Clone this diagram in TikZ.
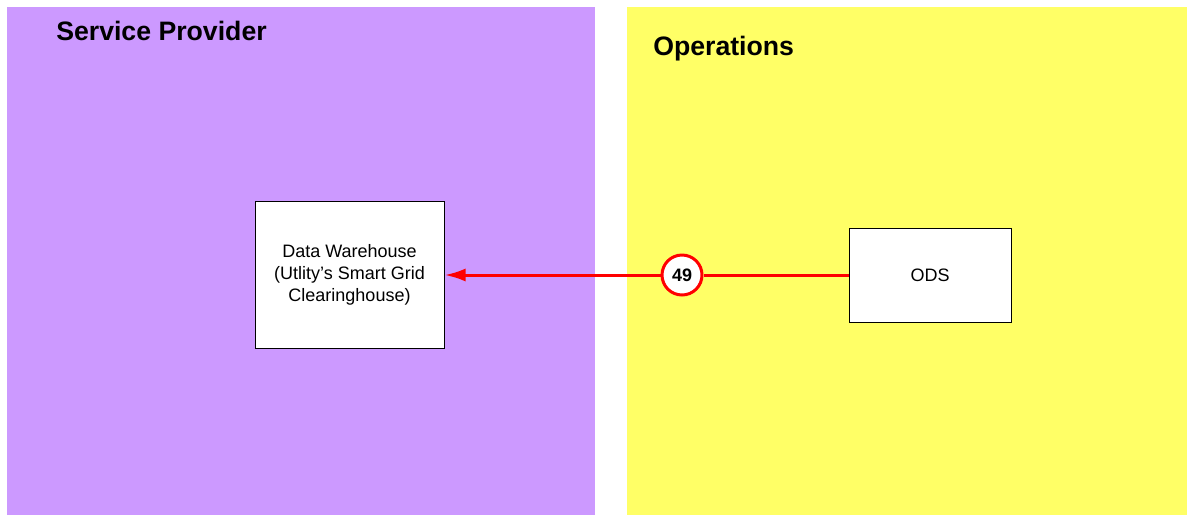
\documentclass[tikz,border=0pt]{standalone}
\usepackage{fontspec}
\setmainfont{Liberation Sans}
\usetikzlibrary{arrows.meta}

\newlength{\du}
\setlength{\du}{0.75pt}

\definecolor{spcolor}{rgb}{0.800000, 0.600000, 1.000000}
\definecolor{opscolor}{rgb}{1.000000, 1.000000, 0.400000}
\definecolor{flowcolor}{rgb}{1.000000, 0.000000, 0.000000}

\begin{document}
\begin{tikzpicture}[x=\du, y=-\du,
  lanetitle/.style={anchor=base west, inner sep=0pt, font=\fontsize{20}{24}\selectfont\bfseries},
  sysbox/.style={draw=black, line width=1\du, fill=white, align=center,
    font=\fontsize{13.5}{16.5}\selectfont},
  flownum/.style={circle, draw=flowcolor, line width=3\du, fill=white, minimum size=40\du,
    inner sep=0pt, font=\fontsize{13.5}{16}\selectfont\bfseries},
  flow/.style={draw=flowcolor, line width=3\du}]
\useasboundingbox (0,0) rectangle (1187,515);
% lanes
\fill[spcolor] (7,7) rectangle (595,515);
\fill[opscolor] (627,7) rectangle (1187,515);
\node[lanetitle] (sptitle) at (56,40) {Service Provider};
\node[lanetitle] (opstitle) at (653,55) {Operations};
% systems
\node[sysbox, minimum width=189\du, minimum height=147\du] (dw) at (349.5,275)
  {Data Warehouse\\(Utlity’s Smart Grid\\Clearinghouse)};
\node[sysbox, minimum width=162\du, minimum height=94\du] (ods) at (930,275) {ODS};
% flow 49
\node[flownum] (n49) at (682,275) {49};
\draw[flow] (ods.west) -- (n49.east);
\draw[flow, -{Latex[length=15.75pt, width=9.75pt]}] (n49.west) -- (dw.east);
\end{tikzpicture}
\end{document}
